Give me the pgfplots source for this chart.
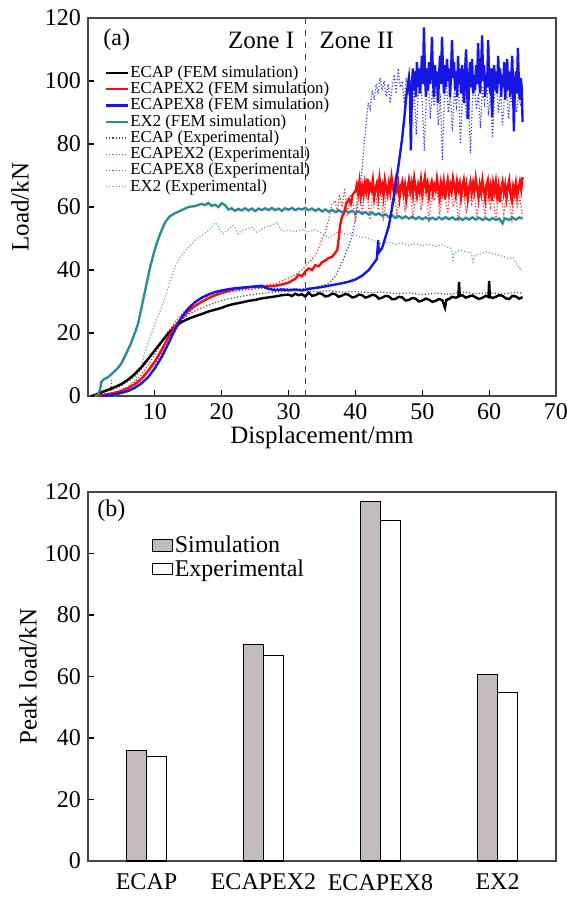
\documentclass[border=0pt]{standalone}
\usepackage{fontspec}
\setmainfont{Liberation Serif}
\usepackage{pgfplots}
\pgfplotsset{compat=1.18}

\definecolor{cRed}{RGB}{250,12,12}
\definecolor{cBlue}{RGB}{22,22,230}
\definecolor{cTeal}{RGB}{45,140,152}
\definecolor{cTealExp}{RGB}{110,168,176}
\definecolor{barGray}{RGB}{196,188,188}
\definecolor{frame}{RGB}{70,70,70}

\pgfplotsset{
  common/.style={
    scale only axis,
    width=234pt,
    axis line style={frame, line width=0.7pt},
    tick align=inside,
    major tick length=3pt,
    tick style={black, line width=0.6pt},
    tick label style={font=\fontsize{12}{14}\selectfont},
    label style={font=\fontsize{12.5}{14}\selectfont},
    /pgf/number format/assume math mode=true,
    ytick pos=left,
  },
  thick line/.style={line width=1.2pt},
  exp line/.style={densely dotted, line width=0.6pt},
}

\begin{document}
\begin{tikzpicture}
\path[use as bounding box] (0pt,0pt) rectangle (283pt,-448.5pt);

% ---------------- (a) load-displacement curves
\begin{axis}[
  common,
  height=189pt,
  at={(44pt,-198pt)}, anchor=south west,
  xmin=0, xmax=70, ymin=0, ymax=120,
  xtick={10,20,...,70}, ytick={0,20,...,120},
  xtick pos=bottom,
  xlabel={Displacement/mm},
  ylabel={Load/kN},
  xlabel style={at={(axis description cs:0.5,-0.111)}, anchor=center},
  ylabel style={at={(axis description cs:-0.145,0.5)}, anchor=center},
  legend style={at={(0.035,0.878)}, anchor=north west, draw=none, fill=none,
    font=\fontsize{8.4}{8.4}\selectfont, inner sep=0pt, row sep=-0.4pt,
    nodes={inner sep=0.6pt}},
  legend cell align={left},
  legend image code/.code={\draw[#1] (0pt,0pt) -- (11pt,0pt);},
]
\addlegendimage{black, thick line}
\addlegendimage{cRed, thick line}
\addlegendimage{cBlue, thick line}
\addlegendimage{cTeal, thick line}
\addlegendimage{black!70, exp line}
\addlegendimage{cRed!70, exp line}
\addlegendimage{cBlue!70, exp line}
\addlegendimage{cTealExp, exp line}
\legend{ECAP (FEM simulation), ECAPEX2 (FEM simulation), ECAPEX8 (FEM simulation),
  EX2 (FEM simulation), ECAP (Experimental), ECAPEX2 (Experimental),
  ECAPEX8 (Experimental), EX2 (Experimental)}

% zone divider
\addplot[forget plot, frame, dashed, line width=0.7pt] coordinates {(32.5,0) (32.5,120)};

% experimental curves (thin, dotted)
\addplot[forget plot, black!70, exp line] coordinates {
(1,0) (2,0.8) (3,1.5) (4,2.3) (5,3.3) (6,4.6) (7,6.3) (8,8.5) (9,11.2) (10,14.3)
(11,17.5) (12,20.5) (13,22.8) (14,24.5) (15,25.8) (16,27) (17,28) (18,28.8) (19,29.6)
(20,30.3) (22,31.3) (24,32) (26,32.6) (28,33) (30,33.3) (32,33.5) (34,33.1) (36,33.4)
(38,32.9) (40,33.2) (42,32.8) (44,33) (46,32.5) (48,32.7) (50,32.2) (52,32.6) (54,32.3)
(56,33) (58,32.5) (60,32.8) (62,32.4) (64,32.9) (65,32.6)
};
\addplot[forget plot, cRed!85, exp line] coordinates {
(2,0) (3,0.5) (3.4,0.7) (3.5,5) (3.6,0.8) (4,1.2) (5,2) (6,3) (7,4.5) (8,6.8) (9,9.8)
(10,13.2) (11,17) (12,20.5) (13,23.5) (14,26) (15,28) (16,29.6) (17,30.8) (18,31.8)
(19,32.6) (20,33.3) (22,34.2) (24,34.6) (26,35) (28,35.6) (29,36.5) (30,37.5) (31,38.5)
(32,40) (33,42.5) (34,44.5) (34.5,47) (35,50) (35.5,52) (36,56) (36.5,61) (37,62)
(37.3,58) (37.6,64) (38,60) (38.4,66) (38.8,57) (39.2,64) (39.6,62) (40,55) (40.3,65)
(40.7,66.5) (41,58) (41.4,65) (41.8,63) (42.2,56) (42.6,66) (43,64) (43.4,59) (43.8,65.5)
(44.2,55.5) (44.6,64) (45,66) (45.4,60) (45.8,65) (46.2,57) (46.6,64.5) (47,66)
(47.4,58.5) (47.8,63) (48.2,65) (48.6,56) (49,64) (49.4,66.5) (49.8,59) (50.2,63.5)
(50.6,65.5) (51,55) (51.4,64) (51.8,62) (52.2,66) (52.6,57.5) (53,64.5) (53.4,63)
(53.8,58) (54.2,66) (54.6,60) (55,64.5) (55.4,55.5) (55.8,65) (56.2,63) (56.6,58) (57,66)
(57.4,61) (57.8,64) (58.2,56.5) (58.6,65) (59,62.5) (59.4,57) (59.8,65.5) (60.2,60)
(60.6,64) (61,55.5) (61.4,63.5) (61.8,65) (62.2,58) (62.6,64) (63,62) (63.4,56)
(63.8,64.5) (64.2,60) (64.6,63) (65,57)
};
\addplot[forget plot, cBlue!85, exp line] coordinates {
(2,0) (4,0.8) (6,2.2) (8,5) (10,10) (12,17) (14,24) (16,28.5) (18,31) (20,32.5)
(22,33.3) (24,33.8) (26,34.2) (28,34.2) (30,34) (32,34) (34,34.5) (35,35) (36,35.7)
(37,38) (38,42.5) (39,47.5) (39.5,51) (40,56) (40.5,63) (41,72) (41.3,80) (41.6,86)
(41.9,93) (42.2,91) (42.5,97) (42.8,94) (43.1,99) (43.4,96) (43.7,101) (44,97)
(44.3,100) (44.6,95) (44.9,99) (45.2,93) (45.5,98) (45.8,102) (46.1,96) (46.4,104)
(46.7,98) (47,100) (47.3,93) (47.6,101) (47.9,96) (48.2,100) (48.5,90) (48.8,98)
(49.1,83) (49.4,96) (49.7,101) (50,93) (50.3,78) (50.6,95) (50.9,100) (51.2,88)
(51.5,97) (51.8,92) (52.1,99) (52.4,86) (52.7,96) (53,75) (53.3,94) (53.6,99) (53.9,90)
(54.2,96) (54.5,84) (54.8,97) (55.1,92) (55.4,100) (55.7,80) (56,95) (56.3,98) (56.6,88)
(56.9,96) (57.2,77) (57.5,94) (57.8,99) (58.1,91) (58.4,96) (58.7,85) (59,98) (59.3,93)
(59.6,100) (59.9,89) (60.2,96) (60.5,82) (60.8,95) (61.1,99) (61.4,90) (61.7,97) (62,86)
(62.3,95) (62.6,99) (62.9,88) (63.2,96) (63.5,92) (63.8,98) (64.1,90) (64.4,96)
(64.7,92) (65,95)
};
\addplot[forget plot, cTealExp, exp line] coordinates {
(4,0) (5,1) (6,2.5) (7,5) (8,9.5) (8.5,14) (9.2,18) (10,23) (10.8,27) (11.5,31)
(12.2,36) (13,41) (13.8,44) (14.5,46) (15.2,47.5) (16,49.5) (17,51) (18,52.5) (18.5,53.5)
(19,55) (19.5,54) (19.7,52.5) (20.2,51.5) (21,52.8) (21.6,54.2) (22,53.5) (22.4,51.5)
(23,52.5) (24,53.2) (24.6,53.5) (25.2,52) (26,53) (26.8,53.8) (27.5,54.2) (28.3,55.2)
(28.8,53) (29.2,52.3) (30,52.6) (31,52.2) (32,52.8) (33,52.2) (34,52.8) (35,51.6)
(36,50.3) (37,51.5) (37.7,52.6) (38.5,51.2) (39.5,51.6) (40.5,50.6) (41.7,50.3)
(42.5,49.5) (43.6,48.4) (45,48.8) (46,48.2) (47,48.6) (48,47.8) (49,48.4) (50,47.6)
(51,48.2) (52,47.5) (53,48) (54,47) (54.4,46.8) (54.6,42.5) (54.8,45.5) (55.6,46.3)
(56.5,45.8) (57.3,45.5) (57.6,42.5) (57.9,44.8) (58.6,45) (59.5,45.8) (60.5,45.2)
(61.5,44.6) (62.3,44.2) (63,43.6) (63.6,43.9) (64.1,42) (64.6,40.4) (65,41)
};

% FEM simulation curves (thick)
\addplot[forget plot, black, thick line] coordinates {
(0.5,0) (1,0.3) (2,1.2) (3,2) (4,2.8) (5,3.8) (6,5.2) (7,7) (8,9.2) (9,11.8) (10,14.5)
(11,17.2) (12,19.8) (13,22) (14,23.5) (15,24.5) (16,25.3) (17,26) (18,26.8) (19,27.4)
(20,28) (21,28.8) (22,29.3) (23,29.7) (24,30.2) (25,30.5) (26,31) (27,31.3) (28,31.6)
(29,32) (30,32.2) (30.5,31.7) (31,32.5) (31.5,32) (32,32.3) (32.5,31.6) (33,32.8)
(33.5,31.8) (34,32) (34.5,32.6) (35,32.4) (35.5,31.6) (36,31.8) (36.5,32.5) (37,32.3)
(37.5,31.5) (38,31.9) (38.5,32.4) (39,32.1) (39.5,31.3) (40,31.5) (40.5,32.2) (41,32)
(41.5,31.2) (42,31.6) (42.5,32.1) (43,31.9) (43.5,30.9) (44,31.2) (44.5,31.8) (45,31.6)
(45.5,30.7) (46,30.8) (46.5,31.5) (47,31.3) (47.5,30.3) (48,30.5) (48.5,31.1) (49,30.9)
(49.5,30) (50,30.3) (50.5,30.9) (51,30.6) (51.5,29.9) (52,30.2) (52.5,30.8) (53,30.4)
(53.4,28) (53.6,30.5) (54,30.8) (54.5,31.5) (55,31.2) (55.4,31.5) (55.5,36.2) (55.6,31.8)
(56,32) (56.5,31.2) (57,31.6) (57.5,31.9) (58,31.3) (58.5,30.8) (59,31.2) (59.5,31.8)
(59.9,31.4) (60,36.5) (60.1,31.6) (60.5,31.1) (61,31.5) (61.5,32) (62,31.8) (62.5,31)
(63,30.8) (63.5,31.8) (64,31.6) (64.5,30.9) (65,31.4)
};
\addplot[forget plot, cTeal, thick line] coordinates {
(1,0) (1.5,0.3) (1.8,2) (2,4.5) (2.3,5.2) (3,6) (3.7,7.3) (4.3,8.5) (4.9,10) (5.5,12.5)
(6.4,16.6) (7,20) (7.5,23) (8.2,30) (8.8,36) (9.3,41) (9.8,45) (10.2,48) (10.8,51.5)
(11.5,55) (12.2,57) (13,58) (14,59) (15,60) (16,60.3) (17,61) (17.5,60.6) (18,61.3)
(18.5,60.4) (19,60.7) (19.5,60) (20,61.2) (20.5,60.6) (21,59.2) (21.5,59.6) (22,58.8)
(22.5,59.4) (23,58.9) (23.5,59.6) (24,58.9) (24.5,59.5) (25,58.7) (25.5,59.5) (26,59)
(26.5,59.6) (27,59) (27.5,59.7) (28,59) (28.5,59.5) (29,58.8) (29.5,59.6) (30,59.1)
(30.5,59.7) (31,59) (31.5,59.5) (32,59.2) (32.5,59.7) (33,59) (33.5,59.5) (34,58.8)
(34.5,59.4) (35,58.6) (35.5,59.2) (36,58.5) (36.5,59.1) (37,58.4) (37.5,59) (38,58.3)
(38.5,58.9) (39,58.2) (39.5,58.8) (40,58.1) (40.5,58.6) (41,57.8) (41.5,58.4) (42,57.6)
(42.5,58.2) (43,57.5) (43.5,58) (44,57.2) (44.5,57.7) (45,56.8) (45.5,57.3) (46,56.5)
(46.5,57.1) (47,56.4) (47.5,57) (48,56.3) (48.5,56.9) (49,56.2) (49.5,56.8) (50,56.1)
(50.5,56.7) (51,56) (51.5,56.6) (52,56) (52.5,56.7) (53,56.1) (53.5,56.8) (54,56.1)
(54.5,56.7) (55,56) (55.5,56.6) (56,55.9) (56.5,56.6) (57,56) (57.5,56.7) (58,56)
(58.5,56.6) (59,55.9) (59.5,56.5) (60,55.8) (60.5,56.5) (61,55.9) (61.5,56.3) (62,54.8)
(62.3,56.4) (63,55.9) (63.5,56.6) (64,56) (64.5,56.7) (65,56.3)
};
\addplot[forget plot, cRed, thick line] coordinates {
(1.5,0) (2,0.3) (3,0.6) (4,1) (5,1.6) (6,2.5) (7,3.7) (8,5.5) (9,8) (10,11) (11,14.6)
(12,18.5) (13,22) (14,24.8) (15,27) (16,28.6) (17,29.9) (18,31) (19,32) (20,32.8)
(21,33.4) (22,33.9) (23,34.2) (24,34.5) (25,34.6) (26,34.7) (27,34.8) (28,35) (29,35.4)
(30,36) (31,37.2) (31.5,38.5) (32,38) (32.5,39.5) (33,40.5) (33.5,40) (34,41.5)
(34.5,41.2) (35,42.5) (35.5,43) (36,43.8) (36.5,44.2) (37,45.5) (37.3,46.5) (37.5,50)
(37.7,54) (38,57) (38.3,58) (38.6,61) (39,62.5) (39.3,61) (39.6,64)
(40.0,65) (40.2,67) (40.4,64.5) (40.6,68) (40.8,63.5) (41.0,66.5) (41.2,64) (41.4,67.5)
(41.6,65) (41.8,69) (42.0,64.5) (42.2,67) (42.4,65.5) (42.6,68.5) (42.8,63) (43.0,66)
(43.2,67.5) (43.4,64) (43.6,69) (43.8,65.5) (44.0,67) (44.2,63.5) (44.4,68.5) (44.6,66)
(44.8,64) (45.0,67.5) (45.2,65) (45.4,69.5) (45.6,66.5) (45.8,64) (46.0,68) (46.2,65.5)
(46.4,67.5) (46.6,63) (46.8,66.5) (47.0,68) (47.2,64.5) (47.4,67) (47.6,62.5) (47.8,66)
(48.0,68.5) (48.2,65) (48.4,67.5) (48.6,64) (48.8,69) (49.0,66) (49.2,63.5) (49.4,67)
(49.6,65) (49.8,68.5) (50.0,64) (50.2,67) (50.4,69.5) (50.6,65.5) (50.8,67.5) (51.0,63.5)
(51.2,66.5) (51.4,68) (51.6,64.5) (51.8,67) (52.0,65.5) (52.2,69) (52.4,66) (52.6,63)
(52.8,67.5) (53.0,65) (53.2,68) (53.4,62.5) (53.6,66) (53.8,68.5) (54.0,64.5) (54.2,67)
(54.4,65) (54.6,69) (54.8,66.5) (55.0,64) (55.2,68) (55.4,65.5) (55.6,67.5) (55.8,63)
(56.0,66.5) (56.2,68.5) (56.4,64.5) (56.6,67) (56.8,62.5) (57.0,66) (57.2,68) (57.4,64.5)
(57.6,67.5) (57.8,65) (58.0,69) (58.2,66) (58.4,63) (58.6,67) (58.8,64.5) (59.0,68.5)
(59.2,65.5) (59.4,62.5) (59.6,67) (59.8,68.5) (60.0,64) (60.2,66.5) (60.4,62) (60.6,67.5)
(60.8,65) (61.0,68) (61.2,63.5) (61.4,66.5) (61.6,61.5) (61.8,66) (62.0,68) (62.2,64.5)
(62.4,67) (62.6,63) (62.8,66.5) (63.0,68.5) (63.2,64) (63.4,62) (63.6,66.5) (63.8,64.5)
(64.0,67.5) (64.2,63.5) (64.4,66) (64.6,68) (64.8,65.5) (65.0,69.5)
};
\addplot[forget plot, cBlue, thick line] coordinates {
(2,0) (3,0.2) (4,0.5) (5,1) (6,1.6) (7,2.6) (8,4) (9,6) (10,8.8) (11,12.3) (12,16.5)
(13,21) (14,25) (15,27.8) (16,29.8) (17,31.2) (18,32.2) (19,33) (20,33.5) (21,33.9)
(22,34.2) (23,34.4) (24,34.6) (25,34.8) (26,35) (27,34) (28,33.6) (29,33.8) (30,33.6)
(31,33.8) (32,33.5) (33,34) (34,34.3) (35,34.6) (36,35) (37,35.4) (38,35.8) (39,36.3)
(40,37) (41,38.2) (42,40) (42.7,42) (43.2,43.5) (43.4,49.5) (43.5,45.5) (44,47)
(44.5,50.5) (45,54) (45.5,60) (46,67) (46.5,74) (47,82) (47.3,88) (47.6,95)
(48.0,101) (48.15,96) (48.3,78) (48.45,99) (48.6,104) (48.75,97) (48.9,103) (49.05,95)
(49.2,106) (49.35,98) (49.5,104) (49.65,96) (49.8,101) (49.95,108) (50.1,99) (50.25,117)
(50.4,102) (50.55,95) (50.7,104) (50.85,97) (51.0,106) (51.15,99) (51.3,104) (51.45,114)
(51.6,100) (51.75,95) (51.9,105) (52.05,98) (52.2,103) (52.35,93) (52.5,101) (52.65,108)
(52.8,99) (52.95,114) (53.1,103) (53.25,96) (53.4,105) (53.55,98) (53.7,107) (53.85,100)
(54.0,104) (54.15,95) (54.3,102) (54.45,113) (54.6,101) (54.75,106) (54.9,97) (55.05,103)
(55.2,95) (55.35,108) (55.5,99) (55.65,104) (55.8,96) (55.95,105) (56.1,99) (56.25,93)
(56.4,103) (56.55,110) (56.7,98) (56.85,88) (57.0,101) (57.15,106) (57.3,98) (57.45,107)
(57.6,96) (57.75,102) (57.9,97) (58.05,105) (58.2,99) (58.35,112) (58.5,101) (58.65,96)
(58.8,104) (58.95,114.5) (59.1,100) (59.25,105) (59.4,95) (59.55,102) (59.7,98)
(59.85,113) (60.0,101) (60.15,96) (60.3,104) (60.45,88.5) (60.6,100) (60.75,105)
(60.9,97) (61.05,103) (61.2,96) (61.35,108) (61.5,99) (61.65,104) (61.8,95) (61.95,102)
(62.1,98) (62.25,106) (62.4,94) (62.55,101) (62.7,107) (62.85,97) (63.0,103) (63.15,95)
(63.3,100) (63.45,108) (63.6,96) (63.7,84) (63.85,99) (64.0,103) (64.15,96) (64.3,110.5)
(64.45,99) (64.6,94) (64.75,101) (64.9,97) (65,87)
};

\node[font=\fontsize{12}{14}\selectfont] at (axis cs:4.3,113) {(a)};
\node[font=\fontsize{12.5}{14}\selectfont] at (axis cs:25.9,113) {Zone I};
\node[font=\fontsize{12.5}{14}\selectfont] at (axis cs:40.2,113) {Zone II};
\end{axis}

% ---------------- (b) peak loads
\begin{axis}[
  common,
  height=184.5pt,
  at={(44pt,-430.5pt)}, anchor=south west,
  ybar=0pt, bar width=10pt,
  xmin=-0.5, xmax=3.5, ymin=0, ymax=120,
  xtick={0,1,2,3}, xticklabels={ECAP, ECAPEX2, ECAPEX8, EX2},
  xtick style={draw=none},
  ytick={0,20,...,120},
  ylabel={Peak load/kN},
  ylabel style={at={(axis description cs:-0.128,0.5)}, anchor=center},
  legend style={at={(0.135,0.887)}, anchor=north west, draw=none, fill=none,
    font=\fontsize{12}{13}\selectfont, inner sep=0pt, row sep=0pt,
    nodes={inner sep=1pt}},
  legend cell align={left},
  legend image code/.code={\draw[#1, line width=0.6pt] (0pt,-2.6pt) rectangle (10pt,3.1pt);},
]
\addplot[draw=black, fill=barGray, line width=0.6pt] coordinates {
(0,36.0) (1,70.3) (2,116.8) (3,60.7)
};
\addplot[draw=black, fill=white, line width=0.6pt] coordinates {
(0,34.1) (1,66.9) (2,110.8) (3,54.9)
};
\legend{Simulation, Experimental}
\node[font=\fontsize{12}{14}\selectfont] at (axis cs:-0.3,114) {(b)};
\end{axis}
\end{tikzpicture}
\end{document}
